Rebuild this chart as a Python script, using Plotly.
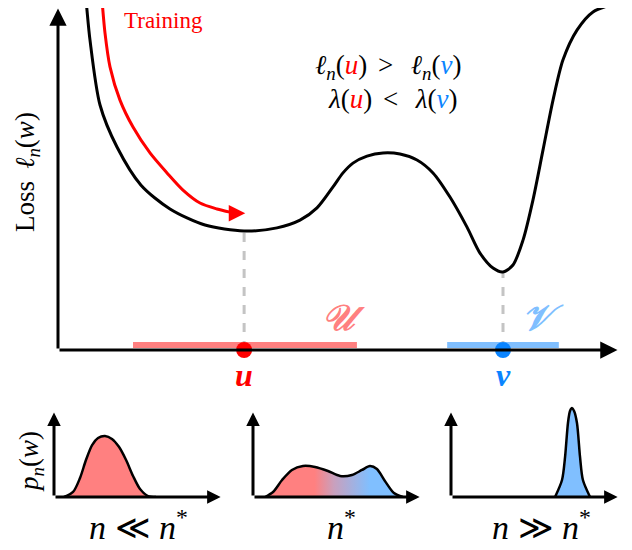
import plotly.graph_objects as go

W, H = 632, 550
OFF = 8                      # page body margin in the browser
FW, FH = W - OFF, H - OFF    # figure size so that it ends at the window edge

# ---------------- data ----------------
# main loss landscape l_n(w)
loss_w = [0.46, 0.496, 0.567, 0.745, 1.046, 1.472, 1.986, 2.606, 3.298, 3.883, 4.291,
          4.592, 4.876, 5.053, 5.230, 5.479, 5.762, 6.064, 6.365, 6.649, 6.950, 7.252,
          7.482, 7.713, 7.890, 8.067, 8.245, 8.422, 8.599, 8.777, 8.954, 9.202, 9.486,
          9.911]
loss_l = [10.43, 10.0, 8.86, 7.00, 5.80, 4.71, 4.03, 3.57, 3.40, 3.49, 3.71,
          4.06, 4.66, 5.06, 5.34, 5.54, 5.63, 5.60, 5.43, 5.06, 4.37, 3.51,
          2.77, 2.34, 2.23, 2.43, 3.14, 4.29, 5.71, 7.14, 8.29, 9.14, 9.66,
          9.91]

# "Training" trajectory
train_w = [0.762, 0.780, 0.833, 0.922, 1.099, 1.330, 1.631, 1.933, 2.216, 2.518, 2.819, 3.050]
train_l = [10.34, 10.0, 9.06, 8.09, 7.14, 6.37, 5.63, 5.06, 4.57, 4.20, 4.03, 3.94]
train_tip = (3.32, 3.91)

# minima u and v, and regions U and V
u_pt = (3.30, 3.40)
v_pt = (7.89, 2.23)
U_region = [1.33, 5.30]
V_region = [6.90, 8.88]

# posterior densities p_n(w) for the three regimes
d1_x = [0.59, 1.12, 1.53, 1.88, 2.24, 2.59, 3.00, 3.41, 3.82, 4.24, 4.65, 5.06, 5.53, 6.00]
d1_y = [0.00, 0.57, 2.16, 4.20, 5.90, 6.70, 6.93, 6.60, 5.70, 4.20, 2.39, 0.91, 0.11, 0.00]

d2_x = [0.71, 1.18, 1.71, 2.29, 2.94, 3.65, 4.41, 5.12, 5.82, 6.41, 6.88, 7.29, 7.76, 8.29, 8.82]
d2_y = [0.00, 0.57, 1.93, 3.07, 3.52, 3.41, 2.95, 2.39, 2.50, 3.07, 3.52, 3.18, 1.82, 0.45, 0.00]

d3_x = [6.12, 6.53, 6.71, 6.88, 7.00, 7.12, 7.24, 7.41, 7.59, 7.76, 8.18]
d3_y = [0.00, 1.93, 4.55, 8.41, 9.77, 10.1, 9.77, 8.41, 4.55, 1.93, 0.00]

panel_labels = ["<i>n</i> ≪ <i>n</i><sup>*</sup>", "<i>n</i><sup>*</sup>",
                "<i>n</i> ≫ <i>n</i><sup>*</sup>"]

# ---------------- styling / layout ----------------
RED = "#ff0000"
BLUE = "#0a84ff"
LRED = "#ff8080"
LBLUE = "#80bfff"
SERIF = "Liberation Serif, DejaVu Serif, serif"


def PX(x):
    return (x - OFF) / FW


def PY(y):
    return 1 - (y - OFF) / FH


fig = go.Figure()

# main panel geometry (window pixels)
MX0, MX1, MY0, MY1 = 58, 622, 350, 8
main_x_dom = [PX(MX0), PX(MX1)]
main_y_dom = [PY(MY0), PY(MY1)]
MAIN_YMAX = 10 * (MY0 - MY1) / 350.0

# dashed guides from minima to axis
for pt in (u_pt, v_pt):
    fig.add_trace(go.Scatter(x=[pt[0], pt[0]], y=[0, pt[1]], mode="lines",
                             line=dict(color="#c4c4c4", width=3, dash="dash"),
                             xaxis="x", yaxis="y", hoverinfo="skip"))

fig.add_trace(go.Scatter(x=loss_w, y=loss_l, mode="lines",
                         line=dict(color="black", width=3, shape="spline", smoothing=0.8),
                         xaxis="x", yaxis="y"))
fig.add_trace(go.Scatter(x=train_w, y=train_l, mode="lines",
                         line=dict(color=RED, width=3, shape="spline", smoothing=0.8),
                         xaxis="x", yaxis="y"))

# region bars
for reg, col in ((U_region, LRED), (V_region, LBLUE)):
    fig.add_shape(type="line", xref="x", yref="y", x0=reg[0], x1=reg[1],
                  ysizemode="pixel", yanchor=0, y0=5, y1=5,
                  line=dict(color=col, width=6), layer="below")

# dots
fig.add_trace(go.Scatter(x=[u_pt[0], v_pt[0]], y=[0, 0], mode="markers",
                         marker=dict(color=[RED, BLUE], size=16, line=dict(width=0)),
                         xaxis="x", yaxis="y", cliponaxis=False))


def arrow(x, y, ax, ay, xr, yr, size):
    fig.add_annotation(x=x, y=y, ax=ax, ay=ay, xref=xr, yref=yr, axref=xr, ayref=yr,
                       text="", showarrow=True, arrowhead=2, arrowsize=size,
                       arrowwidth=3, arrowcolor="black", standoff=0)


# main axes arrows
arrow(9.92, 0, 0, 0, "x", "y", 1.15)
arrow(0, 9.76, 0, 0, "x", "y", 1.15)

# training arrow head
fig.add_annotation(x=train_tip[0], y=train_tip[1], ax=-16, ay=0, xref="x", yref="y",
                   text="", showarrow=True, arrowhead=2, arrowsize=1.1,
                   arrowwidth=3, arrowcolor=RED, standoff=0)

# bottom panels
PANEL_OX = [54, 253, 451]
LABEL_DX = [84, 88, 90]
PW, BASE, PH, HEAD = 170, 497, 88, 1.05
dens = [(d1_x, d1_y), (d2_x, d2_y), (d3_x, d3_y)]
layout_axes = {}
for i, ox in enumerate(PANEL_OX):
    k = i + 2
    xa, ya = f"x{k}", f"y{k}"
    dx, dy = dens[i]
    kw = dict(mode="lines", line=dict(color="black", width=2.5, shape="spline", smoothing=0.8),
              fill="tozeroy", xaxis=xa, yaxis=ya)
    if i == 0:
        kw["fillcolor"] = LRED
    elif i == 2:
        kw["fillcolor"] = LBLUE
    else:
        kw["fillgradient"] = dict(type="horizontal", start=min(dx), stop=max(dx),
                                  colorscale=[[0, LRED], [0.36, LRED], [0.5, "#c9a0bd"],
                                              [0.76, LBLUE], [1, LBLUE]])
    fig.add_trace(go.Scatter(x=dx, y=dy, **kw))
    layout_axes[f"xaxis{k}"] = dict(domain=[PX(ox), PX(ox + PW)], range=[0, 10],
                                    visible=False, anchor=ya)
    layout_axes[f"yaxis{k}"] = dict(domain=[PY(BASE), PY(BASE - PH * HEAD)],
                                    range=[0, 10 * HEAD], visible=False, anchor=xa)
    arrow(9.8, 0, 0, 0, xa, ya, 0.9)
    arrow(0, 9.6, 0, 0, xa, ya, 0.9)
    fig.add_annotation(x=PX(ox + LABEL_DX[i]), y=PY(525), xref="paper", yref="paper",
                       text=panel_labels[i], showarrow=False,
                       font=dict(family=SERIF, size=34, color="black"),
                       xanchor="center", yanchor="middle")


# texts
def txt(xpx, ypx, s, size, color="black", angle=0):
    fig.add_annotation(x=PX(xpx), y=PY(ypx), xref="paper", yref="paper", text=s,
                       showarrow=False, font=dict(family=SERIF, size=size, color=color),
                       textangle=angle, xanchor="center", yanchor="middle")


SP = "\u2009"
txt(163, 20, "Training", 23, RED)
txt(388, 67, f"<i>ℓ</i><sub><i>n</i></sub>(<span style='color:#ff0000'><i>u</i></span>){SP}{SP}&gt;{SP}{SP} "
             f"<i>ℓ</i><sub><i>n</i></sub>(<span style='color:#0a84ff'><i>v</i></span>)", 27)
txt(392, 99, f"<i>λ</i>(<span style='color:#ff0000'><i>u</i></span>){SP}{SP}&lt;{SP}{SP} "
             f"<i>λ</i>(<span style='color:#0a84ff'><i>v</i></span>)", 27)
txt(27, 172, f"Loss {SP}<i>ℓ</i><sub><i>n</i></sub>(<i>w</i>)", 27, angle=-90)
txt(31, 462, "<i>p</i><sub><i>n</i></sub>(<i>w</i>)", 27, angle=-90)
txt(343, 318, "<b><i>𝒰</i></b>", 36, LRED)
txt(543, 318, "<b><i>𝒱</i></b>", 36, LBLUE)
txt(244, 375, "<b><i>u</i></b>", 32, RED)
txt(503, 375, "<b><i>v</i></b>", 32, BLUE)

fig.update_layout(
    width=FW, height=FH, margin=dict(l=0, r=0, t=0, b=0),
    paper_bgcolor="white", plot_bgcolor="white", showlegend=False,
    xaxis=dict(domain=main_x_dom, range=[0, 10], visible=False, anchor="y"),
    yaxis=dict(domain=main_y_dom, range=[0, MAIN_YMAX], visible=False, anchor="x"),
    **layout_axes,
)

fig.write_html("out.html")
